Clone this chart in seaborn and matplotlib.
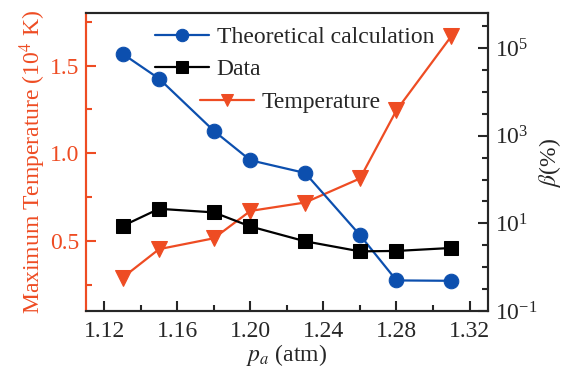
import numpy as np
import pandas as pd
import seaborn as sns
import matplotlib
matplotlib.use("Agg")
import matplotlib.pyplot as plt
from matplotlib.ticker import FixedLocator, MultipleLocator, LogFormatterSciNotation, NullFormatter

# ---- data ----
pressure = [1.13, 1.15, 1.18, 1.20, 1.23, 1.26, 1.28, 1.31]
theory_beta = [74000, 20000, 1290, 275, 141, 5.4, 0.50, 0.49]
data_beta = [8.7, 21.5, 17.8, 8.5, 3.9, 2.3, 2.35, 2.75]
temperature = [0.29, 0.453, 0.515, 0.671, 0.719, 0.856, 1.245, 1.667]

x_ticks = [1.12, 1.16, 1.20, 1.24, 1.28, 1.32]
left_ticks = [0.5, 1.0, 1.5]
right_ticks = [0.1, 10, 1000, 1e5]

BLUE = "#0c4fae"
ORANGE = "#ee4c23"
BLACK = "#000000"
FS = 17

sns.set_style("ticks")
plt.rcParams["font.family"] = ["Liberation Serif", "DejaVu Serif"]
plt.rcParams["mathtext.fontset"] = "stix"
plt.rcParams["font.size"] = FS

df = pd.DataFrame({"p": pressure, "theory": theory_beta, "data": data_beta, "T": temperature})

fig = plt.figure(figsize=(5.62, 3.69), dpi=100)
ax = fig.add_axes([0.153, 0.157, 0.715, 0.808])
ax2 = ax.twinx()

# Left axis: temperature
sns.lineplot(data=df, x="p", y="T", ax=ax, color=ORANGE, marker="v", markersize=11,
             markeredgecolor=ORANGE, linewidth=1.6, label="Temperature", legend=False)
# Right axis: beta
sns.lineplot(data=df, x="p", y="theory", ax=ax2, color=BLUE, marker="o", markersize=10.5,
             markeredgecolor=BLUE, linewidth=1.6, label="Theoretical calculation", legend=False)
sns.lineplot(data=df, x="p", y="data", ax=ax2, color=BLACK, marker="s", markersize=9.5,
             markeredgecolor=BLACK, linewidth=1.6, label="Data", legend=False)

ax.set_xlim(1.11, 1.33)
ax.set_ylim(0.1, 1.8)
ax2.set_yscale("log")
ax2.set_ylim(0.1, 10 ** 5.8)

ax.xaxis.set_major_locator(FixedLocator(x_ticks))
ax.set_xticklabels([f"{v:.2f}" for v in x_ticks])
ax.xaxis.set_minor_locator(MultipleLocator(0.02))
ax.yaxis.set_major_locator(FixedLocator(left_ticks))
ax.set_yticklabels([f"{v:.1f}" for v in left_ticks])
ax.yaxis.set_minor_locator(MultipleLocator(0.25))

ax2.yaxis.set_major_locator(FixedLocator(right_ticks))
ax2.yaxis.set_major_formatter(LogFormatterSciNotation())
minor = [10 ** (k / 2) for k in range(-2, 12)]
minor = [m for m in minor if m not in right_ticks]
ax2.yaxis.set_minor_locator(FixedLocator(minor))
ax2.yaxis.set_minor_formatter(NullFormatter())

for a in (ax, ax2):
    for s in a.spines.values():
        s.set_linewidth(1.5)
        s.set_visible(True)
ax.spines["left"].set_color(ORANGE)
ax2.spines["left"].set_color(ORANGE)

ax.tick_params(axis="x", which="major", direction="in", length=7, width=1.5, labelsize=FS, pad=7, top=False)
ax.tick_params(axis="x", which="minor", direction="in", length=4, width=1.5, top=False)
ax.tick_params(axis="y", which="major", direction="in", length=7, width=1.5, color=ORANGE,
               labelcolor=ORANGE, labelsize=FS, pad=5)
ax.tick_params(axis="y", which="minor", direction="in", length=4, width=1.5, color=ORANGE)
ax2.tick_params(axis="y", which="major", direction="in", length=7, width=1.5, labelsize=FS, pad=5)
ax2.tick_params(axis="y", which="minor", direction="in", length=4, width=1.5)

ax.set_xlabel("$p_a$ (atm)", fontsize=FS, labelpad=0)
ax.set_ylabel("Maximum Temperature (10$^{\\mathrm{4}}$ K)", fontsize=FS, color=ORANGE, labelpad=1)
ax2.set_ylabel("$\\beta$(%)", fontsize=FS, rotation=90, labelpad=0)

h2 = ax2.get_lines()
leg1 = fig.legend(handles=h2[:2], labels=["Theoretical calculation", "Data"],
                  loc="upper left", bbox_to_anchor=(0.255, 0.96), frameon=False,
                  handlelength=2.3, handletextpad=0.3, labelspacing=0.45, borderpad=0,
                  fontsize=FS, markerscale=0.85)
h1 = ax.get_lines()
leg2 = fig.legend(handles=h1[:1], labels=["Temperature"],
                  loc="upper left", bbox_to_anchor=(0.335, 0.783), frameon=False,
                  handlelength=2.3, handletextpad=0.3, borderpad=0, fontsize=FS, markerscale=0.85)

fig.savefig("out.png", dpi=100)
